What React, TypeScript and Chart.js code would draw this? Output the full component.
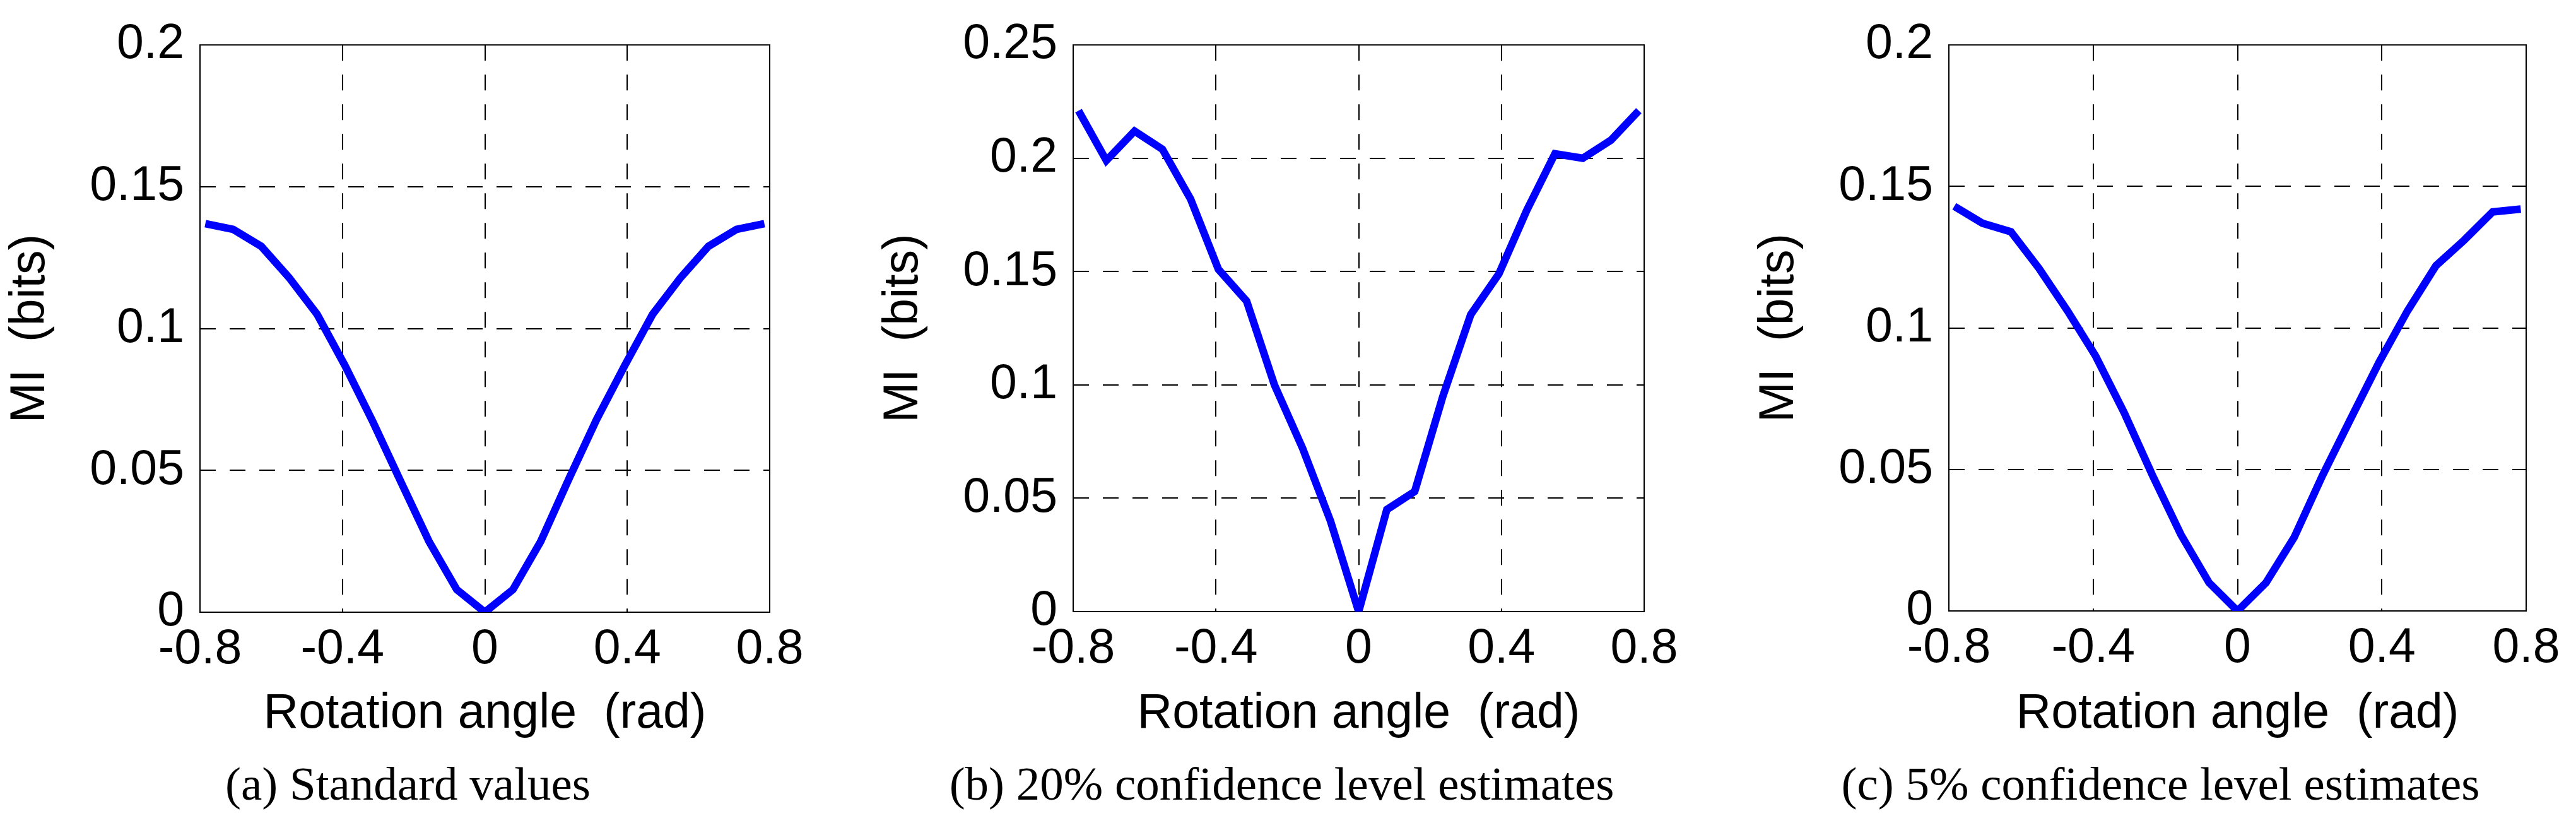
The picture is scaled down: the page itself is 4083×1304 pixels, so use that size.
import React, { useEffect, useRef } from "react";
import { Chart, registerables } from "chart.js";

Chart.register(...registerables);

// rotation angles (rad) sampled in each panel
const angles = [
  -0.785, -0.707, -0.628, -0.55, -0.471, -0.393, -0.314, -0.236, -0.157, -0.079, 0,
  0.079, 0.157, 0.236, 0.314, 0.393, 0.471, 0.55, 0.628, 0.707, 0.785,
];

// MI (bits) per panel
const standardMI = [
  0.137, 0.135, 0.129, 0.118, 0.105, 0.087, 0.067, 0.046, 0.025, 0.008, 0,
  0.008, 0.025, 0.047, 0.068, 0.087, 0.105, 0.118, 0.129, 0.135, 0.137,
];
const conf20MI = [
  0.221, 0.199, 0.212, 0.204, 0.182, 0.151, 0.137, 0.1, 0.072, 0.04, 0,
  0.045, 0.053, 0.095, 0.131, 0.149, 0.177, 0.202, 0.2, 0.208, 0.221,
];
const conf5MI = [
  0.143, 0.137, 0.134, 0.121, 0.106, 0.09, 0.07, 0.048, 0.027, 0.01, 0,
  0.01, 0.026, 0.048, 0.068, 0.088, 0.106, 0.122, 0.131, 0.141, 0.142,
];

const yMaxes = [0.2, 0.25, 0.2];
const captions = [
  "(a) Standard values",
  "(b) 20% confidence level estimates",
  "(c) 5% confidence level estimates",
];
const xTitle = "Rotation angle  (rad)";
const yTitle = "MI  (bits)";

type Box = { left: number; top: number; right: number; bottom: number };

const FONT = { family: "'Liberation Sans', Arial, sans-serif", size: 77 };

// draws the solid axes box round the plot area
const frame = {
  id: "frame",
  beforeDatasetsDraw(chart: any) {
    const { ctx, chartArea: a } = chart;
    ctx.save();
    ctx.strokeStyle = "#000";
    ctx.lineWidth = 2;
    ctx.strokeRect(a.left, a.top, a.right - a.left, a.bottom - a.top);
    ctx.restore();
  },
};

const gridColor = (c: any) =>
  c.index === 0 || c.index === c.scale.ticks.length - 1 ? "rgba(0,0,0,0)" : "#000";

function Panel({ values, yMax, caption, box }: { values: number[]; yMax: number; caption: string; box: Box }) {
  const ref = useRef<HTMLCanvasElement | null>(null);
  const cLeft = box.left - 320;
  const cWidth = box.right + 70 - cLeft;
  const captionCenter = (box.left + box.right) / 2 - 122;

  useEffect(() => {
    if (!ref.current) return;
    const chart = new Chart(ref.current, {
      type: "line",
      data: {
        datasets: [
          {
            data: angles.map((a, i) => ({ x: a, y: values[i] })),
            borderColor: "#0000ff",
            borderWidth: 12,
            pointRadius: 0,
            tension: 0,
            fill: false,
          },
        ],
      },
      options: {
        responsive: false,
        animation: false,
        devicePixelRatio: 1,
        events: [],
        layout: { padding: { left: 6, right: 70, top: box.top, bottom: 126 } },
        plugins: { legend: { display: false }, tooltip: { enabled: false } },
        scales: {
          x: {
            type: "linear",
            min: -0.8,
            max: 0.8,
            ticks: {
              stepSize: 0.4,
              padding: 14,
              color: "#000",
              font: FONT,
              maxRotation: 0,
              callback: (v: any) => String(+Number(v).toFixed(1)),
            },
            grid: { color: gridColor, lineWidth: 2, drawTicks: false },
            border: { display: false, dash: [25, 22] },
            title: { display: true, text: xTitle, color: "#000", font: FONT, padding: 0 },
            afterFit: (s: any) => {
              s.height = 1178 - box.bottom;
            },
          },
          y: {
            type: "linear",
            min: 0,
            max: yMax,
            ticks: {
              stepSize: 0.05,
              padding: 25,
              color: "#000",
              font: FONT,
              callback: (v: any) => String(+Number(v).toFixed(2)),
            },
            grid: { color: gridColor, lineWidth: 2, drawTicks: false },
            border: { display: false, dash: [25, 22] },
            title: { display: true, text: yTitle, color: "#000", font: FONT, padding: 0 },
            afterFit: (s: any) => {
              s.width = 314;
            },
          },
        },
      } as any,
      plugins: [frame],
    });
    return () => chart.destroy();
  }, [values, yMax, box]);

  return (
    <>
      <canvas
        ref={ref}
        width={cWidth}
        height={1304}
        style={{ position: "absolute", left: cLeft, top: 0, width: cWidth, height: 1304 }}
      />
      <div
        style={{
          position: "absolute",
          left: captionCenter - 700,
          width: 1400,
          top: 1204,
          textAlign: "center",
          fontFamily: "'Liberation Serif', 'Times New Roman', serif",
          fontSize: 75,
          lineHeight: "75px",
          color: "#000",
          whiteSpace: "pre",
        }}
      >
        {caption}
      </div>
    </>
  );
}

const boxes: Box[] = [
  { left: 317, top: 67, right: 1220, bottom: 970 },
  { left: 1701, top: 63, right: 2606, bottom: 969 },
  { left: 3089, top: 58, right: 4004, bottom: 968 },
];
const series = [standardMI, conf20MI, conf5MI];

export default function App() {
  return (
    <div
      style={{
        position: "absolute",
        left: 0,
        top: 0,
        width: 4083,
        height: 1304,
        background: "#fff",
        overflow: "hidden",
      }}
    >
      {series.map((vals, i) => (
        <Panel key={i} values={vals} yMax={yMaxes[i]} caption={captions[i]} box={boxes[i]} />
      ))}
    </div>
  );
}
